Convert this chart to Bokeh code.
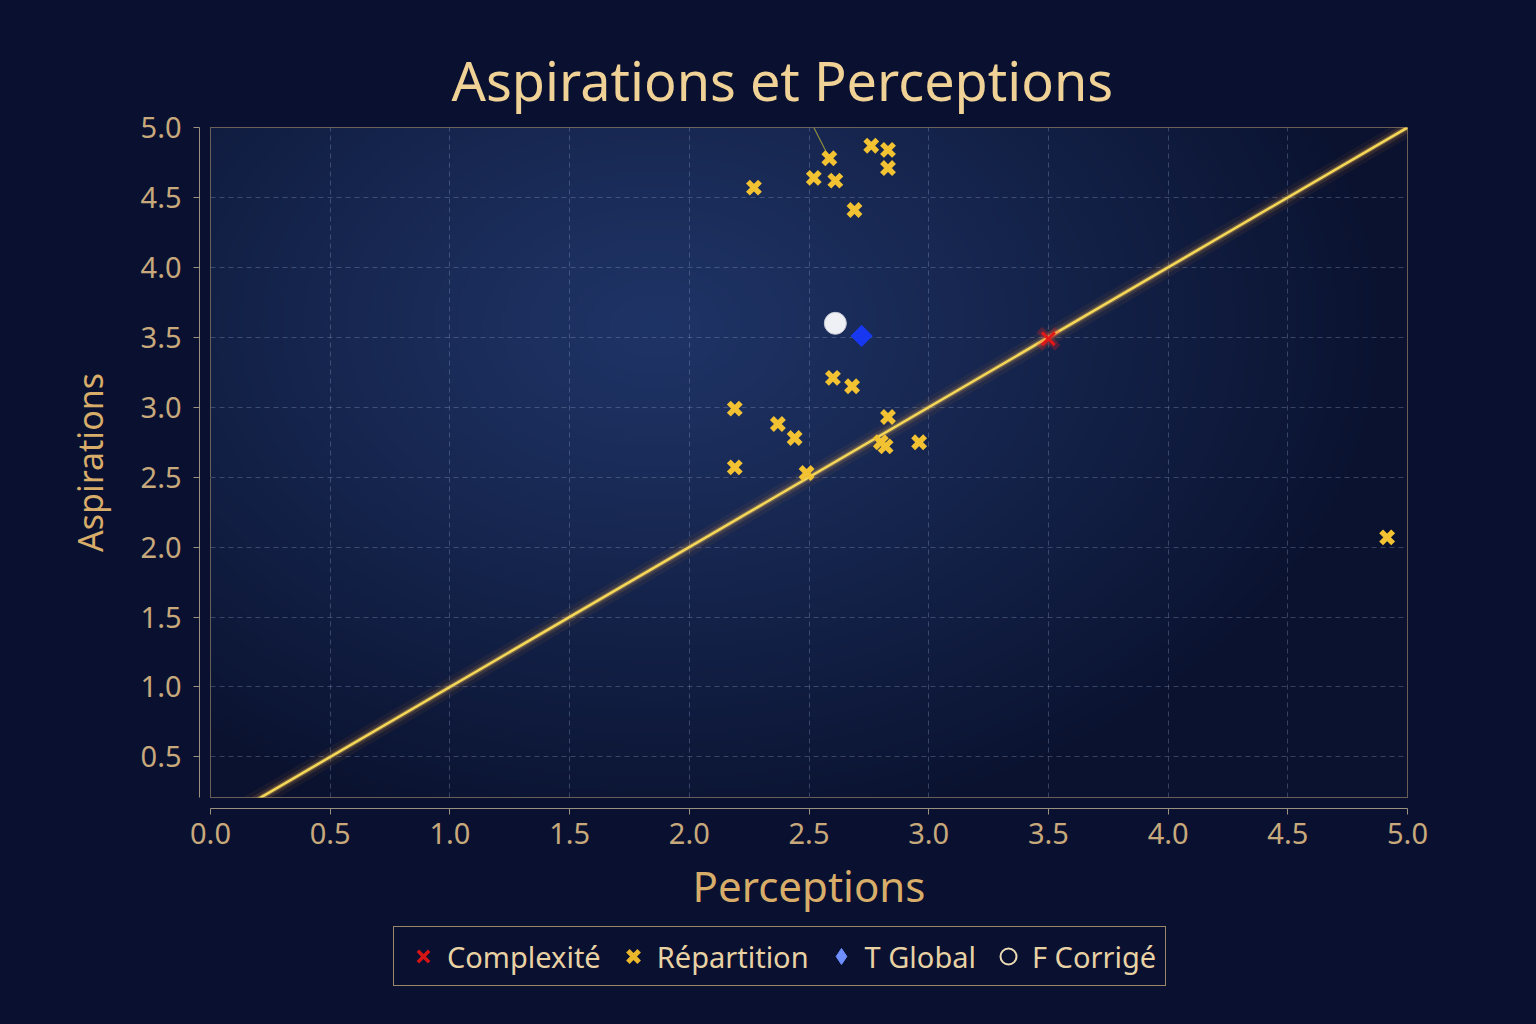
import numpy as np
from bokeh.plotting import figure
from bokeh.layouts import column
from bokeh.models import (Legend, LegendItem, LinearAxis, FixedTicker, Range1d,
                          PrintfTickFormatter)
from bokeh.embed import file_html
from bokeh.resources import INLINE

# ---------------- data ----------------
x_ticks = [0.0, 0.5, 1.0, 1.5, 2.0, 2.5, 3.0, 3.5, 4.0, 4.5, 5.0]
y_ticks = [0.5, 1.0, 1.5, 2.0, 2.5, 3.0, 3.5, 4.0, 4.5, 5.0]

complexite_x = [3.50]
complexite_y = [3.49]

repartition_x = [2.27, 2.52, 2.585, 2.61, 2.69, 2.76, 2.83, 2.83,
                 2.60, 2.68, 2.19, 2.37, 2.44, 2.83, 2.80, 2.82, 2.96, 2.19, 2.49, 4.915]
repartition_y = [4.57, 4.64, 4.78, 4.62, 4.41, 4.87, 4.84, 4.71,
                 3.21, 3.15, 2.99, 2.88, 2.78, 2.93, 2.75, 2.72, 2.75, 2.57, 2.53, 2.07]

tglobal_x = [2.72]
tglobal_y = [3.51]

fcorrige_x = [2.61]
fcorrige_y = [3.60]

diag_x = [0.0, 5.0]
diag_y = [0.0, 5.0]

leader_x = [2.52, 2.55, 2.585]
leader_y = [5.0, 4.90, 4.78]

legend_labels = ["Complexité", "Répartition", "T Global", "F Corrigé"]

FONT = "Noto Sans"
X0, X1 = 0.0, 5.0
Y0, Y1 = 0.21, 5.0
BORDER = "#0a1130"
MAIN_H = 920
LEG_H = 1024 - MAIN_H

p = figure(width=1536, height=MAIN_H, output_backend="svg", toolbar_location=None,
           x_range=Range1d(X0, X1), y_range=Range1d(Y0, Y1),
           x_axis_location=None, y_axis_location=None,
           min_border_left=210, min_border_right=129, min_border_top=127,
           min_border_bottom=MAIN_H - 797)

p.background_fill_color = "#0d1638"
p.border_fill_color = BORDER
p.outline_line_color = "#a8936e"
p.outline_line_alpha = 0.8
p.outline_line_width = 1

# ---------------- background radial glow ----------------
H, W = 168, 300
gy, gx = np.mgrid[0:H, 0:W]
cx, cy = 0.37 * W, 0.70 * H
r = np.sqrt(((gx - cx) / (0.62 * W)) ** 2 + ((gy - cy) / (0.78 * H)) ** 2)
t = np.clip(r, 0, 1) ** 1.1
c0 = np.array([0x1f, 0x34, 0x66])
c1 = np.array([0x0a, 0x12, 0x2f])
rgb = c0[None, None, :] * (1 - t[..., None]) + c1[None, None, :] * t[..., None]
img = np.empty((H, W), dtype=np.uint32)
view = img.view(dtype=np.uint8).reshape((H, W, 4))
view[..., 0] = rgb[..., 0].astype(np.uint8)
view[..., 1] = rgb[..., 1].astype(np.uint8)
view[..., 2] = rgb[..., 2].astype(np.uint8)
view[..., 3] = 255
p.image_rgba(image=[img], x=X0, y=Y0, dw=X1 - X0, dh=Y1 - Y0, level="image")

# ---------------- grid ----------------
p.xgrid.ticker = FixedTicker(ticks=x_ticks)
p.ygrid.ticker = FixedTicker(ticks=y_ticks)
for g in (p.xgrid, p.ygrid):
    g.grid_line_color = "#8a9cc4"
    g.grid_line_alpha = 0.35
    g.grid_line_dash = "5 4"
    g.grid_line_width = 1

# ---------------- axes (offset from frame) ----------------
def dummy_axis():
    # invisible spacer axis: its single tick is painted in the border colour
    return LinearAxis(ticker=FixedTicker(ticks=[2.5]), axis_line_color=None,
                      major_tick_line_color=BORDER, minor_tick_line_color=None,
                      major_tick_out=11, major_tick_in=0, minor_tick_out=0,
                      major_label_text_font_size="0px", major_label_text_color=None,
                      major_label_overrides={2.5: ""}, major_label_standoff=0)

def styled_axis(ticks, label, label_size, tick_standoff, label_standoff):
    ax = LinearAxis(ticker=FixedTicker(ticks=ticks),
                    formatter=PrintfTickFormatter(format="%.1f"))
    ax.axis_line_color = "#9a927f"
    ax.major_tick_line_color = "#9a927f"
    ax.minor_tick_line_color = None
    ax.major_tick_out = 6
    ax.major_tick_in = 0
    ax.major_label_text_font = FONT
    ax.major_label_text_font_size = "29px"
    ax.major_label_text_color = "#c7a97c"
    ax.major_label_standoff = tick_standoff
    ax.axis_label = label
    ax.axis_label_text_font = FONT
    ax.axis_label_text_font_size = label_size
    ax.axis_label_text_font_style = "normal"
    ax.axis_label_text_color = "#d8ad6a"
    ax.axis_label_standoff = label_standoff
    return ax

p.add_layout(dummy_axis(), "below")
p.add_layout(styled_axis(x_ticks, "Perceptions", "42px", 8, 10), "below")
p.add_layout(dummy_axis(), "left")
p.add_layout(styled_axis(y_ticks, "Aspirations", "34px", 12, 25), "left")

# ---------------- diagonal line with glow ----------------
p.line(diag_x, diag_y, line_color="#ff9a2a", line_width=18, line_alpha=0.06)
p.line(diag_x, diag_y, line_color="#ffb040", line_width=10, line_alpha=0.12)
p.line(diag_x, diag_y, line_color="#ffd060", line_width=5, line_alpha=0.28)
p.line(diag_x, diag_y, line_color="#f5d857", line_width=2.5)

# leader line
p.line(leader_x, leader_y, line_color="#8d8c3c", line_width=1.2)

# ---------------- points ----------------
p.scatter(complexite_x, complexite_y, marker="x", size=26, line_color="#ff2020",
          line_width=8, line_alpha=0.25)
p.scatter(complexite_x, complexite_y, marker="x", size=18, line_color="#e01818",
          line_width=3)

p.scatter(repartition_x, repartition_y, marker="x", size=17, line_color="#f2c232",
          line_width=5.5)

p.scatter(tglobal_x, tglobal_y, marker="square", angle=np.pi / 4, size=15,
          fill_color="#1738f0", line_color="#1738f0")

p.scatter(fcorrige_x, fcorrige_y, marker="circle", size=22, fill_color="#eef0f6",
          line_color="#c8cbd6", line_width=1)

# ---------------- title ----------------
p.title.text = "Aspirations et Perceptions"
p.title.text_font = FONT
p.title.text_font_size = "54px"
p.title.text_font_style = "normal"
p.title.text_color = "#f0d296"
p.title.align = "left"
p.title.offset = 241
p.title.standoff = 22

# ---------------- legend strip (separate figure below) ----------------
p2 = figure(width=1536, height=LEG_H, output_backend="svg", toolbar_location=None,
            x_range=Range1d(0, 1), y_range=Range1d(0, 1),
            x_axis_location=None, y_axis_location=None, min_border=0)
p2.grid.visible = False
p2.outline_line_color = None
p2.background_fill_color = BORDER
p2.border_fill_color = BORDER

nan = [float("nan")]
lg_c = p2.scatter(nan, nan, marker="x", line_color="#d41515", line_width=3.5)
lg_r = p2.scatter(nan, nan, marker="x", line_color="#e9b62c", line_width=5)
lg_t = p2.scatter(nan, nan, marker="diamond", fill_color="#6f8fff",
                  line_color="#6f8fff")
lg_f = p2.scatter(nan, nan, marker="circle", fill_color=None,
                  line_color="#eedcb5", line_width=2)

legend = Legend(items=[LegendItem(label=legend_labels[0], renderers=[lg_c], index=0),
                       LegendItem(label=legend_labels[1], renderers=[lg_r], index=0),
                       LegendItem(label=legend_labels[2], renderers=[lg_t], index=0),
                       LegendItem(label=legend_labels[3], renderers=[lg_f], index=0)],
                orientation="horizontal", location=(183, 38))
legend.label_text_font = FONT
legend.label_text_font_size = "29px"
legend.label_text_color = "#e8d2a4"
legend.border_line_color = "#a8936e"
legend.border_line_alpha = 0.9
legend.border_line_width = 1
legend.background_fill_color = BORDER
legend.background_fill_alpha = 0.95
legend.glyph_width = 40
legend.glyph_height = 40
legend.label_standoff = 4
legend.spacing = 12
legend.padding = 9
legend.margin = 0
p2.add_layout(legend, "center")

layout = column(p, p2, spacing=0, styles={"background-color": BORDER})
open("out.html", "w").write(file_html(layout, INLINE))
